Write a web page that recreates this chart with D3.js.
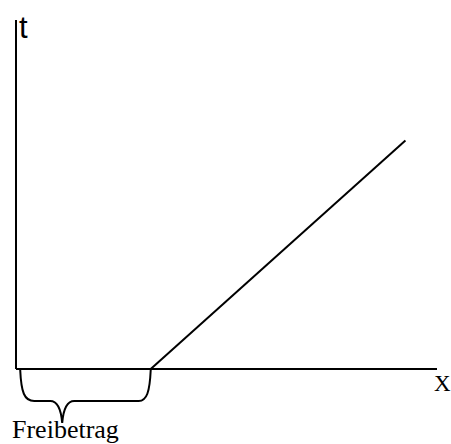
<!DOCTYPE html>
<html>
<head>
<meta charset="utf-8">
<script src="https://cdn.jsdelivr.net/npm/d3@7"></script>
<style>
  body { margin: 0; background: #fff; }
</style>
</head>
<body>
<div id="chart"></div>
<script>
// data (x = income, t = tax)
var lineX = [32, 92.5];
var lineT = [0, 65.5];
var freibetrag = [1, 32];
var labels = ["t", "X", "Freibetrag"];

var width = 451, height = 444;

var svg = d3.select("#chart")
  .append("svg")
    .attr("width", width)
    .attr("height", height);

// scales
var x = d3.scaleLinear()
    .domain([0, 100])
    .range([16, 437]);

var y = d3.scaleLinear()
    .domain([0, 100])
    .range([369, 20]);

// axes: plain lines, no ticks
svg.append("line")
    .attr("x1", x(0)).attr("y1", y(0))
    .attr("x2", x(0)).attr("y2", y(100))
    .attr("stroke", "#000")
    .attr("stroke-width", 2);

svg.append("line")
    .attr("x1", x(0)).attr("y1", y(0))
    .attr("x2", x(100)).attr("y2", y(0))
    .attr("stroke", "#000")
    .attr("stroke-width", 2);

// tax line
var pts = lineX.map(function(d, i) { return [d, lineT[i]]; });
var line = d3.line()
    .x(function(d) { return x(d[0]); })
    .y(function(d) { return y(d[1]); });

svg.append("path")
    .datum(pts)
    .attr("d", line)
    .attr("fill", "none")
    .attr("stroke", "#000")
    .attr("stroke-width", 2);

// curly brace under the Freibetrag range
var bL = x(freibetrag[0]), bR = x(freibetrag[1]);
var bTop = y(0) + 1, bBot = bTop + 31, bTip = bTop + 53;
var bMid = bL + 42;
var brace = d3.path();
brace.moveTo(bL, bTop);
brace.bezierCurveTo(bL + 1, bTop + 22, bL + 4, bBot, bL + 14, bBot);
brace.lineTo(bMid - 12, bBot);
brace.bezierCurveTo(bMid - 4, bBot, bMid - 1, bBot + 10, bMid, bTip);
brace.bezierCurveTo(bMid + 1, bBot + 10, bMid + 4, bBot, bMid + 12, bBot);
brace.lineTo(bR - 12, bBot);
brace.bezierCurveTo(bR - 4, bBot, bR - 1, bTop + 22, bR, bTop);

svg.append("path")
    .attr("d", brace.toString())
    .attr("fill", "none")
    .attr("stroke", "#000")
    .attr("stroke-width", 2);

// labels
svg.append("text")
    .attr("x", x(0) + 3)
    .attr("y", 38)
    .style("font-family", "'Liberation Sans', Arial, sans-serif")
    .style("font-size", "31px")
    .text(labels[0]);

svg.append("text")
    .attr("x", 434)
    .attr("y", 391)
    .style("font-family", "'Liberation Serif', 'Times New Roman', serif")
    .style("font-size", "23px")
    .text(labels[1]);

svg.append("text")
    .attr("x", 12)
    .attr("y", 438)
    .style("font-family", "'Liberation Serif', 'Times New Roman', serif")
    .style("font-size", "26px")
    .text(labels[2]);
</script>
</body>
</html>
